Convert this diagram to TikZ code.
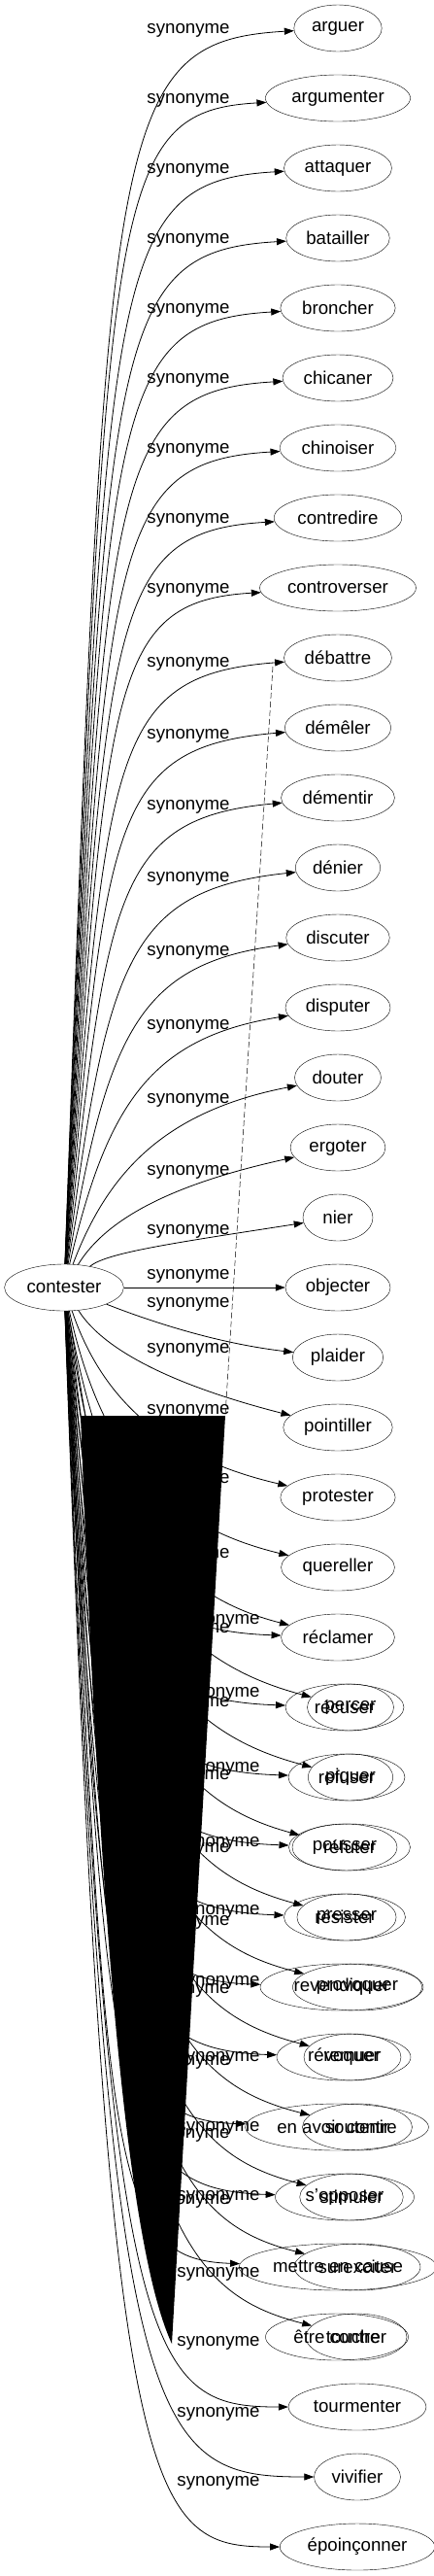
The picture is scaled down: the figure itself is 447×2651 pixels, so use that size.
\documentclass[tikz,border=0pt]{standalone}
\usepackage{fontspec}
\setmainfont{Liberation Sans}
\usetikzlibrary{shapes.geometric, arrows.meta}

\tikzset{
	word/.style = {draw, ellipse, inner xsep=5pt, inner ysep=2pt, minimum width=72pt, minimum height=48pt},
	syn/.style = {->, line width=.8pt},
	lbl/.style = {inner sep=0pt},
}

\begin{document}
\begin{tikzpicture}[x=1pt, y=-1pt, >={Triangle[length=10pt, width=7pt]}, font=\fontsize{18.67}{22}\selectfont]
	\useasboundingbox (0, 0) rectangle (447, 2651);

	% nodes
	\node [word] (contester) at (66, 1325) {contester};

	\node [word] (arguer) at (348, 29) {arguer};
	\node [word] (argumenter) at (348, 101) {argumenter};
	\node [word] (attaquer) at (348, 173) {attaquer};
	\node [word] (batailler) at (348, 245) {batailler};
	\node [word] (broncher) at (348, 317) {broncher};
	\node [word] (chicaner) at (348, 389) {chicaner};
	\node [word] (chinoiser) at (348, 461) {chinoiser};
	\node [word] (contredire) at (348, 533) {contredire};
	\node [word] (controverser) at (348, 605) {controverser};
	\node [word] (debattre) at (348, 677) {débattre};
	\node [word] (demeler) at (348, 749) {démêler};
	\node [word] (dementir) at (348, 821) {démentir};
	\node [word] (denier) at (348, 893) {dénier};
	\node [word] (discuter) at (348, 965) {discuter};
	\node [word] (disputer) at (348, 1037) {disputer};
	\node [word] (douter) at (348, 1109) {douter};
	\node [word] (ergoter) at (348, 1181) {ergoter};
	\node [word] (nier) at (348, 1253) {nier};
	\node [word] (objecter) at (348, 1325) {objecter};
	\node [word] (plaider) at (348, 1397) {plaider};
	\node [word] (pointiller) at (348, 1469) {pointiller};
	\node [word] (protester) at (348, 1541) {protester};
	\node [word] (quereller) at (348, 1613) {quereller};
	\node [word] (reclamer) at (348, 1685) {réclamer};

	% rangees doublees
	\node [word, minimum width=122pt] (recuser) at (355, 1757) {récuser};
	\node [word, minimum width=82pt] (percer) at (361, 1757) {percer};
	\node [word, minimum width=120pt] (refuser) at (357, 1829) {refuser};
	\node [word, minimum width=82pt] (piquer) at (361, 1829) {piquer};
	\node [word, minimum width=125pt] (refuter) at (360, 1901) {réfuter};
	\node [word, minimum width=85pt] (pousser) at (355, 1901) {pousser};
	\node [word, minimum width=125pt] (resister) at (355, 1973) {résister};
	\node [word, minimum width=81pt] (presser) at (357, 1973) {presser};
	\node [word, minimum width=168pt] (revendiquer) at (352, 2045) {revendiquer};
	\node [word, minimum width=131pt] (provoquer) at (368, 2045) {provoquer};
	\node [word, minimum width=138pt] (revoquer) at (354, 2117) {révoquer};
	\node [word, minimum width=100pt] (remuer) at (363, 2117) {remuer};
	\node [word, minimum width=179pt] (enavoir) at (347, 2189) {en avoir contre};
	\node [word, minimum width=113pt] (soutenir) at (368, 2189) {soutenir};
	\node [word, minimum width=143pt] (sopposer) at (355, 2261) {s'opposer};
	\node [word, minimum width=101pt] (stimuler) at (362, 2261) {stimuler};
	\node [word, minimum width=191pt] (mettre) at (348, 2333) {mettre en cause};
	\node [word, minimum width=130pt] (surexciter) at (368, 2333) {surexciter};
	\node [word, minimum width=147pt] (etre) at (347, 2405) {être contre};
	\node [word, minimum width=104pt] (toucher) at (367, 2405) {toucher};

	\node [word] (tourmenter) at (368, 2477) {tourmenter};
	\node [word] (vivifier) at (368, 2549) {vivifier};
	\node [word] (epoinconner) at (368, 2621) {époinçonner};

	% edges, vers le haut
	\draw [syn] (contester) .. controls (110, 129) and (110, 43) .. (arguer);
	\draw [syn] (contester) .. controls (110, 201) and (110, 115) .. (argumenter);
	\draw [syn] (contester) .. controls (110, 273) and (110, 187) .. (attaquer);
	\draw [syn] (contester) .. controls (110, 345) and (110, 259) .. (batailler);
	\draw [syn] (contester) .. controls (110, 417) and (110, 331) .. (broncher);
	\draw [syn] (contester) .. controls (110, 489) and (110, 403) .. (chicaner);
	\draw [syn] (contester) .. controls (110, 561) and (110, 475) .. (chinoiser);
	\draw [syn] (contester) .. controls (110, 633) and (110, 547) .. (contredire);
	\draw [syn] (contester) .. controls (110, 705) and (110, 619) .. (controverser);
	\draw [syn] (contester) .. controls (110, 777) and (110, 695) .. (debattre);
	\draw [syn] (contester) .. controls (110, 849) and (110, 769) .. (demeler);
	\draw [syn] (contester) .. controls (110, 921) and (117, 842) .. (dementir);
	\draw [syn] (contester) .. controls (110, 993) and (130, 916) .. (denier);
	\draw [syn] (contester) .. controls (110, 1065) and (142, 992) .. (discuter);
	\draw [syn] (contester) .. controls (110, 1137) and (155, 1068) .. (disputer);
	\draw [syn] (contester) .. controls (110, 1209) and (167, 1144) .. (douter);
	\draw [syn] (contester) .. controls (110, 1253) and (180, 1218) .. (ergoter);
	\draw [syn] (contester) .. controls (110, 1289) and (180, 1279) .. (nier);
	\draw [syn] (contester) -- (objecter);

	% edges, vers le bas
	\draw [syn] (contester) .. controls (150, 1358) and (220, 1382) .. (plaider);
	\draw [syn] (contester) .. controls (110, 1395) and (195, 1430) .. (pointiller);
	\draw [syn] (contester) .. controls (105, 1440) and (170, 1500) .. (protester);
	\draw [syn] (contester) .. controls (105, 1500) and (170, 1570) .. (quereller);
	\draw [syn] (contester) .. controls (105, 1550) and (170, 1640) .. (reclamer);
	\draw [syn] (contester) .. controls (110, 1585) and (110, 1677) .. (reclamer);

	\draw [syn] (contester) .. controls (105, 1607) and (170, 1707) .. (percer);
	\draw [syn] (contester) .. controls (105, 1679) and (170, 1779) .. (piquer);
	\draw [syn] (contester) .. controls (105, 1751) and (170, 1851) .. (pousser);
	\draw [syn] (contester) .. controls (105, 1823) and (170, 1923) .. (presser);
	\draw [syn] (contester) .. controls (105, 1895) and (170, 1995) .. (provoquer);
	\draw [syn] (contester) .. controls (105, 1967) and (170, 2067) .. (remuer);
	\draw [syn] (contester) .. controls (105, 2039) and (170, 2139) .. (soutenir);
	\draw [syn] (contester) .. controls (105, 2111) and (170, 2211) .. (stimuler);
	\draw [syn] (contester) .. controls (105, 2183) and (170, 2283) .. (surexciter);
	\draw [syn] (contester) .. controls (105, 2255) and (170, 2355) .. (toucher);

	\draw [syn] (contester) .. controls (110, 1657) and (110, 1749) .. (recuser);
	\draw [syn] (contester) .. controls (110, 1729) and (110, 1821) .. (refuser);
	\draw [syn] (contester) .. controls (110, 1801) and (110, 1893) .. (refuter);
	\draw [syn] (contester) .. controls (110, 1873) and (110, 1965) .. (resister);
	\draw [syn] (contester) .. controls (110, 1945) and (110, 2037) .. (revendiquer);
	\draw [syn] (contester) .. controls (110, 2017) and (110, 2109) .. (revoquer);
	\draw [syn] (contester) .. controls (110, 2089) and (110, 2181) .. (enavoir);
	\draw [syn] (contester) .. controls (110, 2161) and (110, 2253) .. (sopposer);
	\draw [syn] (contester) .. controls (110, 2233) and (110, 2325) .. (mettre);

	\draw [syn] (contester) .. controls (110, 2437) and (150, 2477) .. (tourmenter);
	\draw [syn] (contester) .. controls (110, 2509) and (150, 2549) .. (vivifier);
	\draw [syn] (contester) .. controls (110, 2581) and (150, 2621) .. (epoinconner);

	% tache noire
	\coordinate (btl) at (83, 1457);
	\coordinate (btr) at (232, 1457);
	\coordinate (btip) at (177, 2412);
	\fill [black] (btl) -- (btr) -- (btip) .. controls (125, 2300) and (100, 1900) .. (btl) -- cycle;

	\coordinate (dtop) at (281, 686);
	\draw [dashed, line width=.5pt, dash pattern=on 6pt off 3pt] (dtop) -- (btr);

	% labels
	\node [lbl] (s0) at (194, 31) {synonyme};
	\node [lbl] (s1) at (194, 103) {synonyme};
	\node [lbl] (s2) at (194, 175) {synonyme};
	\node [lbl] (s3) at (194, 247) {synonyme};
	\node [lbl] (s4) at (194, 319) {synonyme};
	\node [lbl] (s5) at (194, 391) {synonyme};
	\node [lbl] (s6) at (194, 463) {synonyme};
	\node [lbl] (s7) at (194, 535) {synonyme};
	\node [lbl] (s8) at (194, 607) {synonyme};
	\node [lbl] (s9) at (194, 683) {synonyme};
	\node [lbl] (s10) at (194, 757) {synonyme};
	\node [lbl] (s11) at (194, 830) {synonyme};
	\node [lbl] (s12) at (194, 904) {synonyme};
	\node [lbl] (s13) at (194, 980) {synonyme};
	\node [lbl] (s14) at (194, 1056) {synonyme};
	\node [lbl] (s15) at (194, 1132) {synonyme};
	\node [lbl] (s16) at (194, 1206) {synonyme};
	\node [lbl] (s17) at (194, 1267) {synonyme};
	\node [lbl] (s18) at (194, 1313) {synonyme};
	\node [lbl] (s19) at (194, 1342) {synonyme};
	\node [lbl] (s20) at (194, 1389) {synonyme};
	\node [lbl] (s21) at (194, 1452) {synonyme};
	\node [lbl] (s22) at (194, 1523) {synonyme};
	\node [lbl] (s23) at (194, 1600) {synonyme};
	\node [lbl] (s24) at (194, 1677) {synonyme};
	\node [lbl] (s25) at (194, 1753) {synonyme};
	\node [lbl] (s26) at (194, 1828) {synonyme};
	\node [lbl] (s27) at (194, 1903) {synonyme};
	\node [lbl] (s28) at (194, 1978) {synonyme};
	\node [lbl] (s29) at (194, 2048) {synonyme};
	\node [lbl] (s30) at (194, 2122) {synonyme};
	\node [lbl] (s31) at (194, 2197) {synonyme};
	\node [lbl] (s32) at (194, 2265) {synonyme};

	\node [lbl] (t23) at (225, 1668) {synonyme};
	\node [lbl] (t24) at (225, 1743) {synonyme};
	\node [lbl] (t25) at (225, 1820) {synonyme};
	\node [lbl] (t26) at (225, 1897) {synonyme};
	\node [lbl] (t27) at (225, 1967) {synonyme};
	\node [lbl] (t28) at (225, 2040) {synonyme};
	\node [lbl] (t29) at (225, 2118) {synonyme};
	\node [lbl] (t30) at (225, 2190) {synonyme};
	\node [lbl] (t31) at (225, 2261) {synonyme};
	\node [lbl] (t32) at (225, 2340) {synonyme};
	\node [lbl] (t34) at (225, 2411) {synonyme};
	\node [lbl] (t35) at (225, 2484) {synonyme};
	\node [lbl] (t36) at (225, 2555) {synonyme};
\end{tikzpicture}
\end{document}
